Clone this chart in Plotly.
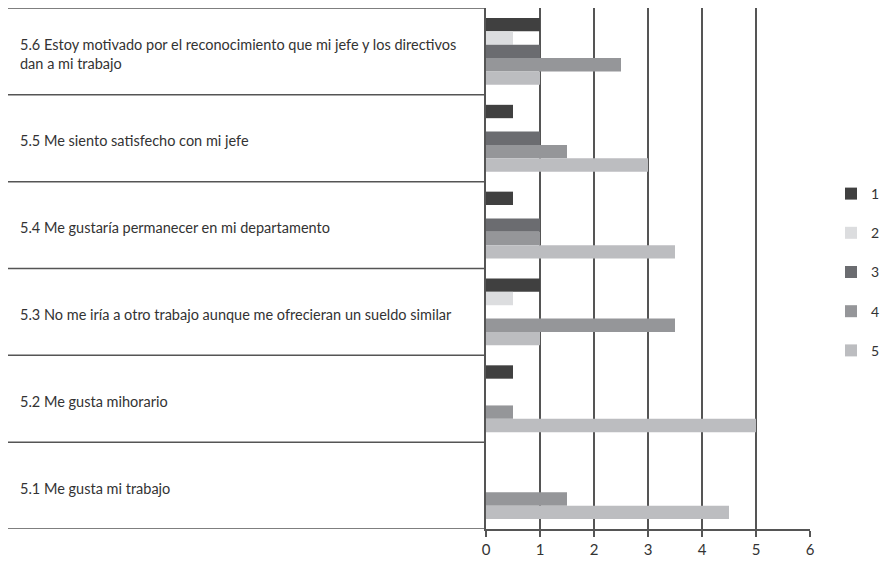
import plotly.graph_objects as go

categories = [
    "5.6 Estoy motivado por el reconocimiento que mi jefe y los directivos<br>dan a mi trabajo",
    "5.5 Me siento satisfecho con mi jefe",
    "5.4 Me gustaría permanecer en mi departamento",
    "5.3 No me iría a otro trabajo aunque me ofrecieran un sueldo similar",
    "5.2 Me gusta mihorario",
    "5.1 Me gusta mi trabajo",
]
series_names = ["1", "2", "3", "4", "5"]
s1 = [1, 0.5, 0.5, 1, 0.5, 0]
s2 = [0.5, 0, 0, 0.5, 0, 0]
s3 = [1, 1, 1, 0, 0, 0]
s4 = [2.5, 1.5, 1, 3.5, 0.5, 1.5]
s5 = [1, 3, 3.5, 1, 5, 4.5]
series_values = [s1, s2, s3, s4, s5]
colors = ["#404040", "#dcdddf", "#6b6c70", "#959699", "#bcbdc0"]
x_ticks = [0, 1, 2, 3, 4, 5, 6]

# page body has an 8px margin, so the figure is drawn 8px smaller
W, H = 885, 561
L, R, T, B = 478, 83, 0, 40
pw = W - L - R
ph = H - T - B

fig = go.Figure()
for i, (name, vals) in enumerate(zip(series_names, series_values)):
    fig.add_trace(go.Bar(
        y=list(range(len(categories))), x=vals, name=name, orientation="h",
        marker=dict(color=colors[i], line=dict(width=0)),
        legendgroup=name,
    ))

def px2paper(px):
    return (px - L) / pw

shapes = []
for k in range(len(categories) + 1):
    shapes.append(dict(type="line", xref="paper", yref="y",
                       x0=px2paper(0), x1=0, y0=k - 0.5, y1=k - 0.5,
                       line=dict(color="#555555", width=1.5)))

annotations = []
for k, c in enumerate(categories):
    annotations.append(dict(xref="paper", yref="y", x=px2paper(10), y=k + 0.03,
                            text=c, showarrow=False, xanchor="left", yanchor="middle",
                            align="left", font=dict(size=14.5, color="#333333")))

fig.update_layout(
    width=W, height=H,
    margin=dict(l=L, r=R, t=T, b=B, autoexpand=False),
    plot_bgcolor="white", paper_bgcolor="white",
    barmode="group", bargap=0.23, bargroupgap=0,
    font=dict(family="Lato, 'Open Sans', sans-serif", color="#333333"),
    xaxis=dict(range=[0, 6], tickvals=x_ticks, ticktext=[str(t) for t in x_ticks],
               showgrid=True, gridcolor="#555555", gridwidth=1.5,
               showline=True, linecolor="#555555", linewidth=1.5,
               ticks="outside", ticklen=6, tickcolor="#555555", tickwidth=1.5,
               tickfont=dict(size=15, color="#333333"), zeroline=False),
    yaxis=dict(range=[len(categories) - 0.5, -0.5], showticklabels=False,
               showgrid=False, zeroline=False, showline=True,
               linecolor="#555555", linewidth=1.5, ticks=""),
    shapes=shapes, annotations=annotations,
    showlegend=True,
    legend=dict(x=px2paper(823), y=(H - B - 170) / ph, xanchor="left", yanchor="top",
                traceorder="grouped", tracegroupgap=18,
                font=dict(size=14, color="#333333"), bgcolor="rgba(0,0,0,0)"),
)

fig.write_html("out.html")
